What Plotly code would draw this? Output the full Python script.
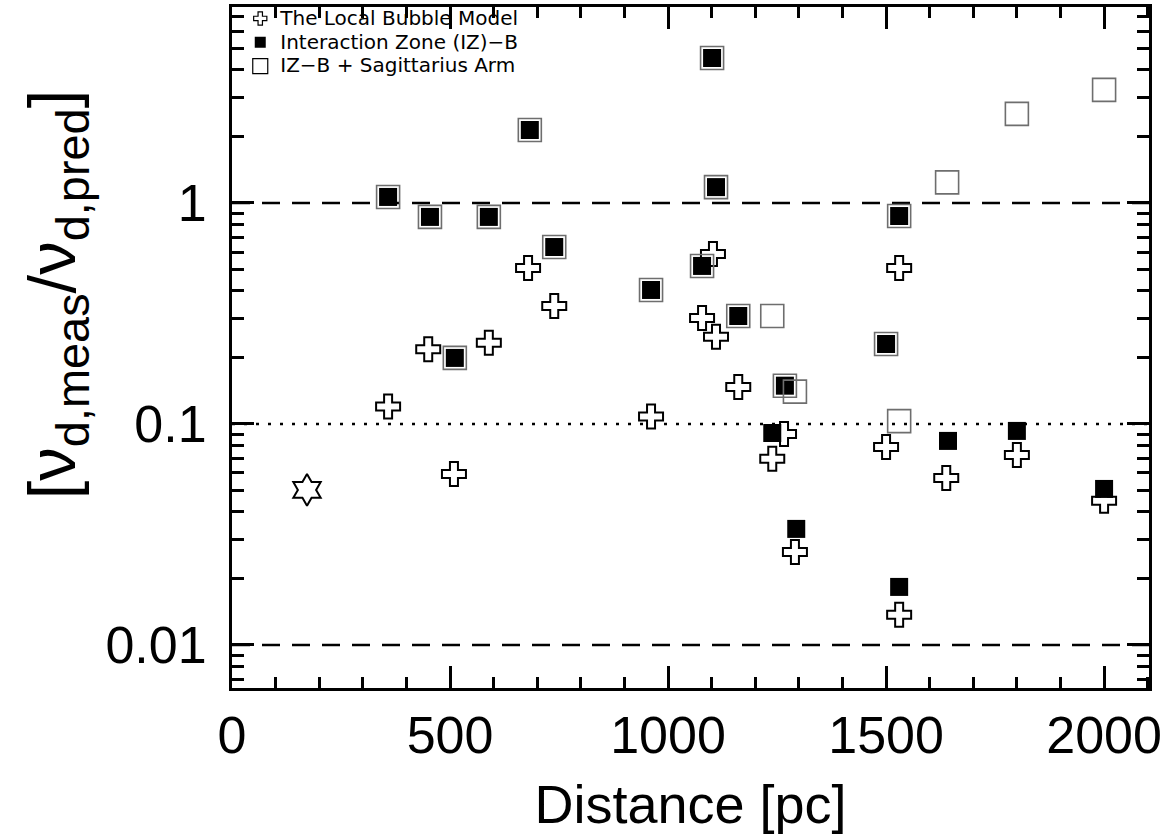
import plotly.graph_objects as go

# Local Bubble Model (open crosses)
lb_dist = [358, 450, 509, 589, 679, 739, 961, 1078, 1103, 1110, 1161, 1239, 1266, 1291, 1500, 1530, 1530, 1638, 1800, 2000]
lb_ratio = [0.120, 0.218, 0.0594, 0.233, 0.508, 0.342, 0.108, 0.302, 0.588, 0.248, 0.147, 0.0695, 0.090, 0.0263, 0.0787, 0.508, 0.0137, 0.057, 0.0724, 0.0449]

# Interaction Zone (IZ)-B (filled squares)
iz_dist = [358, 454, 511, 589, 683, 739, 961, 1078, 1101, 1110, 1161, 1239, 1268, 1294, 1500, 1530, 1530, 1642, 1800, 2000]
iz_ratio = [1.065, 0.865, 0.199, 0.865, 2.14, 0.632, 0.404, 0.519, 4.53, 1.18, 0.308, 0.091, 0.149, 0.0335, 0.230, 0.873, 0.0183, 0.0838, 0.093, 0.0508]

# IZ-B + Sagittarius Arm (open squares)
sag_dist = [358, 454, 511, 589, 683, 739, 961, 1078, 1101, 1110, 1161, 1239, 1268, 1291, 1500, 1530, 1530, 1640, 1800, 2000]
sag_ratio = [1.065, 0.865, 0.199, 0.865, 2.14, 0.632, 0.404, 0.519, 4.53, 1.18, 0.308, 0.308, 0.149, 0.140, 0.230, 0.873, 0.103, 1.24, 2.53, 3.25]

# single special object (star of David)
star_dist = [172]
star_ratio = [0.0503]

x_range = [0, 2103]
y_log_range = [-2.195, 0.887]
ref_dashed = [1.0, 0.01]
ref_dotted = [0.1]

legend_names = ["The Local Bubble Model", "Interaction Zone (IZ)\u2212B", "IZ\u2212B + Sagittarius Arm"]

FONT = "Liberation Sans"
LEG_FONT = "DejaVu Sans"
fig = go.Figure()

# reference lines
for yv in ref_dashed:
    fig.add_shape(type="line", xref="paper", yref="y", x0=0, x1=1, y0=yv, y1=yv,
                  line=dict(color="black", width=2.5, dash="18px,12px"), layer="below")
for yv in ref_dotted:
    fig.add_shape(type="line", xref="paper", yref="y", x0=0, x1=1, y0=yv, y1=yv,
                  line=dict(color="black", width=2.5, dash="3px,9px"), layer="below")

fig.add_trace(go.Scatter(x=lb_dist, y=lb_ratio, mode="markers", showlegend=False,
                         marker=dict(symbol="cross", size=20, color="white",
                                     line=dict(color="black", width=2))))
fig.add_trace(go.Scatter(x=iz_dist, y=iz_ratio, mode="markers", showlegend=False,
                         marker=dict(symbol="square", size=18, color="black",
                                     line=dict(width=0))))
fig.add_trace(go.Scatter(x=sag_dist, y=sag_ratio, mode="markers", showlegend=False,
                         marker=dict(symbol="square-open", size=23, color="#6e6e6e",
                                     line=dict(color="#6e6e6e", width=1.6))))
fig.add_trace(go.Scatter(x=star_dist, y=star_ratio, mode="markers", showlegend=False,
                         marker=dict(symbol="hexagram-open", size=24, color="black",
                                     line=dict(color="black", width=2))))

# legend-only entries with small symbols
leg_markers = [
    dict(symbol="cross", size=11, color="white", line=dict(color="black", width=1.2)),
    dict(symbol="square", size=11, color="black", line=dict(width=0)),
    dict(symbol="square-open", size=15, color="black", line=dict(color="black", width=1.2)),
]
for name, mk in zip(legend_names, leg_markers):
    fig.add_trace(go.Scatter(x=[None], y=[None], mode="markers",
                             name='<span style="font-size:20px">' + name + '</span>',
                             marker=mk))

axis_common = dict(showline=True, linecolor="black", linewidth=3, mirror="allticks",
                   ticks="inside", tickcolor="black", tickwidth=2.5, ticklen=22,
                   showgrid=False, zeroline=False, automargin=False,
                   tickfont=dict(family=FONT, size=52, color="black"))

fig.update_xaxes(range=x_range, tickvals=[0, 500, 1000, 1500, 2000],
                 ticktext=["0", "500", "1000", "1500", "2000"],
                 minor=dict(ticks="inside", ticklen=11, tickwidth=2.5, tickcolor="black", dtick=100),
                 ticklabelstandoff=0,
                 title=dict(text="Distance [pc]", font=dict(family=FONT, size=54, color="black"),
                            standoff=22),
                 **axis_common)
fig.update_yaxes(type="log", range=y_log_range, tickvals=[0.01, 0.1, 1],
                 ticktext=["0.01", "0.1", "1"],
                 minor=dict(ticks="inside", ticklen=12, tickwidth=2.5, tickcolor="black", dtick="D1"),
                 ticklabelstandoff=12,
                 **axis_common)

fig.add_annotation(xref="paper", yref="paper", x=-0.192, y=0.578, xanchor="center", yanchor="middle",
                   text="[\u03bd<sub>d,meas</sub>/\u03bd<sub>d,pred</sub>]", textangle=-90,
                   showarrow=False, font=dict(family=FONT, size=67, color="black"))

fig.update_layout(width=1166, height=835,
                  margin=dict(l=232, r=17, t=7, b=147, autoexpand=False),
                  plot_bgcolor="white", paper_bgcolor="white",
                  legend=dict(x=0.009, y=1.008, xanchor="left", yanchor="top",
                              bgcolor="rgba(0,0,0,0)", borderwidth=0,
                              font=dict(family=LEG_FONT, size=16, color="black"),
                              tracegroupgap=0, itemwidth=30))

fig.write_html("out.html")
